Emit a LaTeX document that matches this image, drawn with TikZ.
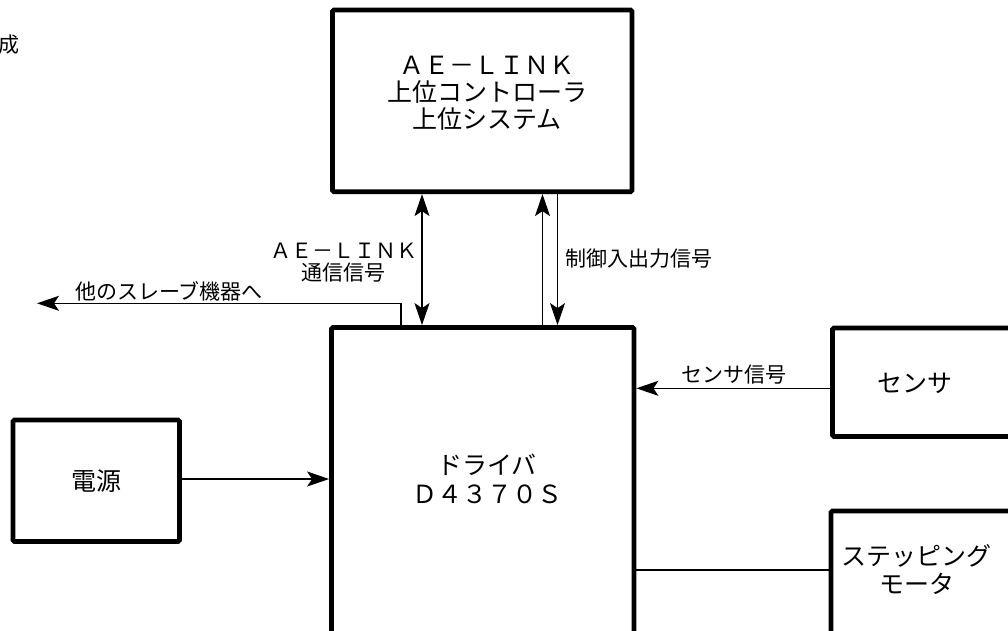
\documentclass[tikz,border=0pt]{standalone}
\usepackage{fontspec}
\setmainfont{Noto Sans CJK JP}
\usetikzlibrary{arrows.meta}
\begin{document}
\begin{tikzpicture}[x=1pt,y=-1pt,
  blk/.style={draw,line width=4.8pt,rounded corners=1.5pt,rectangle,inner sep=0pt},
  big/.style={font=\fontsize{25}{27}\selectfont,align=center,inner sep=0pt},
  small/.style={font=\fontsize{21}{22}\selectfont,align=center,inner sep=0pt},
  conn/.style={line width=1.2pt},
  tip/.style={-{Stealth[length=22pt,width=15pt,inset=5pt]}},
  dtip/.style={{Stealth[length=22pt,width=15pt,inset=5pt]}-{Stealth[length=22pt,width=15pt,inset=5pt]}}
]
\useasboundingbox (0,0) rectangle (1008,630);
\clip (0,0) rectangle (1008,630);

% boxes
\node[blk,minimum width=299.5pt,minimum height=181.7pt] (top) at (482.25,100.85) {};
\node[blk,minimum width=302.5pt,minimum height=332.5pt] (drv) at (482.75,493.75) {};
\node[blk,minimum width=197.5pt,minimum height=108.5pt] (sen) at (931.25,382.25) {};
\node[blk,minimum width=166.5pt,minimum height=121.5pt] (pwr) at (96.25,480.75) {};
\node[blk,minimum width=199pt,minimum height=149pt] (mot) at (930.5,585.5) {};

% labels inside boxes
\node[big] (toplbl) at (487,93) {ＡＥ－ＬＩＮＫ\\上位コントローラ\\上位システム};
\node[big,font=\fontsize{25}{29}\selectfont] (drvlbl) at (487,478.5) {ドライバ\\Ｄ４３７０Ｓ};
\node[big] (senlbl) at (915,383) {センサ};
\node[big] (pwrlbl) at (96,481) {電源};
\node[big,font=\fontsize{25}{28}\selectfont] (motlbl) at (916.5,570) {ステッピング\\モータ};

% title fragment
\node[small,anchor=east] (ttl) at (19.5,45) {成};

% coordinates for connectors
\coordinate (xa) at (422,0);
\coordinate (xu) at (542.5,0);
\coordinate (xd) at (557.5,0);
\coordinate (xs) at (401,0);
\coordinate (slv) at (37,303.3);
\coordinate (ys) at (0,388.3);
\coordinate (yp) at (0,479);
\coordinate (ym) at (0,570);

% connectors
\draw[conn,dtip] (top.south -| xa) -- (drv.north -| xa);
\draw[conn,tip] (drv.north -| xu) -- (top.south -| xu);
\draw[conn,tip] (top.south -| xd) -- (drv.north -| xd);
\draw[conn,tip] (drv.north -| xs) |- (slv);
\draw[conn,tip] (sen.west |- ys) -- (drv.east |- ys);
\draw[conn,tip] (pwr.east |- yp) -- (drv.west |- yp);
\draw[conn] (drv.east |- ym) -- (mot.west |- ym);

% connector labels
\node[small] (aelbl) at (343.5,263) {ＡＥ－ＬＩＮＫ\\通信信号};
\node[small] (slvlbl) at (169,291) {他のスレーブ機器へ};
\node[small] (ctllbl) at (639,259) {制御入出力信号};
\node[small] (senslbl) at (733.5,375) {センサ信号};
\end{tikzpicture}
\end{document}
